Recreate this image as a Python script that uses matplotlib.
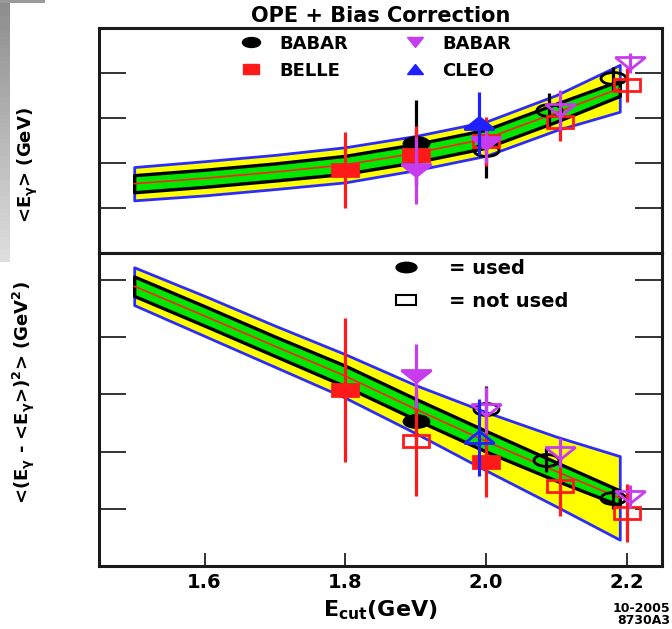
import numpy as np
import matplotlib
matplotlib.use("Agg")
import matplotlib.pyplot as plt
from matplotlib.markers import MarkerStyle
from matplotlib.transforms import Affine2D
from matplotlib.lines import Line2D

plt.rcParams['font.family'] = ['DejaVu Sans']
plt.rcParams['font.weight'] = 'bold'
plt.rcParams['axes.labelweight'] = 'bold'
plt.rcParams['mathtext.fontset'] = 'dejavusans'
plt.rcParams['mathtext.default'] = 'bf'

# OPE prediction band vs. photon energy cut
band_x = [1.5, 1.6, 1.7, 1.8, 1.9, 2.0, 2.1, 2.19]
mean_c = [2.277, 2.283, 2.290, 2.298, 2.311, 2.327, 2.356, 2.383]
mean_in = [0.0095, 0.0095, 0.0095, 0.0100, 0.0100, 0.0100, 0.0100, 0.0085]
mean_out = [0.0185, 0.019, 0.019, 0.0195, 0.019, 0.019, 0.0195, 0.026]
var_c = [0.0489, 0.0437, 0.0384, 0.0332, 0.0274, 0.0218, 0.0165, 0.0119]
var_in = [0.0017, 0.0017, 0.0017, 0.0018, 0.0018, 0.0018, 0.0016, 0.0013]
var_out = [0.0033, 0.0035, 0.0036, 0.0038, 0.0042, 0.0051, 0.0061, 0.0073]

# first moment <E_gamma> (GeV)
m_babar_x, m_babar_y, m_babar_e = [1.9], [2.322], [0.048]
m_babar_nu_x, m_babar_nu_y, m_babar_nu_e = [2.0, 2.09, 2.18], [2.314, 2.359, 2.394], [0.031, 0.019, 0.013]
m_belle_x, m_belle_y, m_belle_e = [1.8, 1.9], [2.292, 2.309], [0.042, 0.032]
m_belle_nu_x, m_belle_nu_y, m_belle_nu_e = [2.0, 2.105, 2.2], [2.324, 2.346, 2.387], [0.027, 0.021, 0.019]
m_bxs_x, m_bxs_y, m_bxs_e = [1.9, 2.0], [2.292, 2.322], [0.037, 0.022]
m_bxs_nu_x, m_bxs_nu_y, m_bxs_nu_e = [2.105, 2.205], [2.359, 2.411], [0.022, 0.011]
m_cleo_x, m_cleo_y, m_cleo_e = [1.99], [2.344], [0.035]

# second central moment (GeV^2)
v_babar_x, v_babar_y, v_babar_e = [1.9], [0.0254], [0.0046]
v_babar_nu_x, v_babar_nu_y, v_babar_nu_e = [2.0, 2.085, 2.18], [0.0275, 0.0186, 0.0118], [0.0039, 0.0021, 0.0018]
v_belle_x, v_belle_y, v_belle_e = [1.8, 2.0], [0.0307, 0.0181], [0.0126, 0.0060]
v_belle_nu_x, v_belle_nu_y, v_belle_nu_e = [1.9, 2.105, 2.2], [0.0218, 0.0140, 0.0093], [0.0095, 0.0052, 0.0051]
v_bxs_x, v_bxs_y, v_bxs_e = [1.9], [0.0332], [0.0056]
v_bxs_nu_x, v_bxs_nu_y, v_bxs_nu_e = [2.0, 2.105, 2.205], [0.0272, 0.0198, 0.0121], [0.0040, 0.0025, 0.0020]
v_cleo_nu_x, v_cleo_nu_y, v_cleo_nu_e = [1.99], [0.0225], [0.0067]

x_ticks = [1.6, 1.8, 2.0, 2.2]
x_ticklabels = ['1.6', '1.8', '2.0', '2.2']
mean_ticks = [2.25, 2.30, 2.35, 2.40]
var_ticks = [0.01, 0.02, 0.03, 0.04, 0.05]

BLACK = '#000000'
RED = '#ff1a1a'
MAG = '#c83cf0'
BLUE = '#1f1fff'


def squash(m, sy):
    return MarkerStyle(m, transform=Affine2D().scale(1.0, sy))


def band(ax, c, inner, outer):
    c, inner, outer = np.array(c), np.array(inner), np.array(outer)
    ax.fill_between(band_x, c - outer, c + outer, facecolor='#ffff00',
                    edgecolor='#2b2bff', lw=2.0, zorder=1)
    ax.fill_between(band_x, c - inner, c + inner, facecolor='#00e600',
                    edgecolor='black', lw=2.4, zorder=2)
    ax.plot(band_x, c, color='#ff2020', lw=1.2, zorder=3)


def points(ax, x, y, e, color, m, ms, sy, filled, z):
    ax.errorbar(x, y, yerr=e, fmt='none', ecolor=color, elinewidth=2.3,
                capsize=0, zorder=z)
    ax.plot(x, y, ls='none', marker=squash(m, sy), ms=ms,
            mfc=color if filled else 'none', mec=color, mew=2.0, zorder=z + 0.5)


fig = plt.figure(figsize=(6.72, 6.29), dpi=100)
ax1 = fig.add_axes([99 / 672, 1 - 253 / 629, 563 / 672, 225 / 629])
ax2 = fig.add_axes([99 / 672, 1 - 566 / 629, 563 / 672, 313 / 629])

# upper panel: mean photon energy
band(ax1, mean_c, mean_in, mean_out)
points(ax1, m_babar_x, m_babar_y, m_babar_e, BLACK, 'o', 18, 0.48, True, 5)
points(ax1, m_babar_nu_x, m_babar_nu_y, m_babar_nu_e, BLACK, 'o', 18, 0.48, False, 5)
points(ax1, m_belle_x, m_belle_y, m_belle_e, RED, 's', 19, 0.48, True, 6)
points(ax1, m_belle_nu_x, m_belle_nu_y, m_belle_nu_e, RED, 's', 19, 0.48, False, 6)
points(ax1, m_bxs_x, m_bxs_y, m_bxs_e, MAG, 'v', 21, 0.43, True, 7)
points(ax1, m_bxs_nu_x, m_bxs_nu_y, m_bxs_nu_e, MAG, 'v', 21, 0.43, False, 7)
points(ax1, m_cleo_x, m_cleo_y, m_cleo_e, BLUE, '^', 21, 0.43, True, 8)

# lower panel: variance
band(ax2, var_c, var_in, var_out)
points(ax2, v_babar_x, v_babar_y, v_babar_e, BLACK, 'o', 18, 0.48, True, 5)
points(ax2, v_babar_nu_x, v_babar_nu_y, v_babar_nu_e, BLACK, 'o', 18, 0.48, False, 5)
points(ax2, v_belle_x, v_belle_y, v_belle_e, RED, 's', 19, 0.48, True, 6)
points(ax2, v_belle_nu_x, v_belle_nu_y, v_belle_nu_e, RED, 's', 19, 0.48, False, 6)
points(ax2, v_bxs_x, v_bxs_y, v_bxs_e, MAG, 'v', 21, 0.43, True, 7)
points(ax2, v_bxs_nu_x, v_bxs_nu_y, v_bxs_nu_e, MAG, 'v', 21, 0.43, False, 7)
points(ax2, v_cleo_nu_x, v_cleo_nu_y, v_cleo_nu_e, BLUE, '^', 21, 0.43, False, 8)

for ax in (ax1, ax2):
    ax.set_xlim(1.45, 2.25)
    for s in ax.spines.values():
        s.set_linewidth(2.2)
        s.set_color('#1a1a1a')
    ax.tick_params(axis='y', which='both', direction='in', length=19.5,
                   width=1.3, left=True, right=True, labelleft=False,
                   color='#222222')

ax1.set_ylim(2.20, 2.45)
ax1.set_yticks(mean_ticks)
ax1.tick_params(axis='x', which='both', length=0, labelbottom=False)
ax2.set_ylim(0.0, 0.0547)
ax2.set_yticks(var_ticks)
ax2.set_xticks(x_ticks)
ax2.set_xticklabels(x_ticklabels)
ax2.tick_params(axis='x', direction='in', length=9.5, width=1.3, top=False,
                labelsize=14, pad=5, color='#222222')

ax1.set_title('OPE + Bias Correction', fontsize=15, fontweight='bold', pad=4)
ax1.set_ylabel('<E$_{\\gamma}$> (GeV)', fontsize=13, fontweight='bold')
ax1.yaxis.set_label_coords(-0.105, 0.39)
ax2.set_ylabel('<(E$_{\\gamma}$ - <E$_{\\gamma}$>)$^{2}$> (GeV$^{2}$)',
               fontsize=13, fontweight='bold')
ax2.yaxis.set_label_coords(-0.11, 0.553)
ax2.set_xlabel('E$_{cut}$(GeV)', fontsize=16, fontweight='bold')
ax2.xaxis.set_label_coords(0.5, -0.105)

# experiment legend
h_top = [
    Line2D([], [], ls='none', marker=squash('o', 0.55), ms=13, color=BLACK),
    Line2D([], [], ls='none', marker=squash('s', 0.55), ms=12, color=RED),
    Line2D([], [], ls='none', marker=squash('v', 0.6), ms=12, color=MAG),
    Line2D([], [], ls='none', marker=squash('^', 0.6), ms=12, color=BLUE),
]
ax1.legend(h_top, ['BABAR', 'BELLE', 'BABAR', 'CLEO'], ncol=2, frameon=False,
           loc='upper left', bbox_to_anchor=(0.254, 0.97), borderpad=0,
           borderaxespad=0, handlelength=1.0, handletextpad=1.05,
           columnspacing=3.2, labelspacing=0.5,
           prop={'size': 13, 'weight': 'bold'})

# used / not used legend
h_bot = [
    Line2D([], [], ls='none', marker=squash('o', 0.5), ms=15, color=BLACK),
    Line2D([], [], ls='none', marker=squash('s', 0.5), ms=15, mfc='none',
           mec=BLACK, mew=1.5),
]
ax2.legend(h_bot, ['= used', '= not used'], frameon=False, loc='upper left',
           bbox_to_anchor=(0.528, 0.982), borderpad=0, borderaxespad=0,
           handlelength=1.0, handletextpad=1.7, labelspacing=0.75,
           prop={'size': 14, 'weight': 'bold'})

fig.text(0.998, 0.003, '10-2005\n8730A3', ha='right', va='bottom',
         fontsize=9, fontweight='bold', linespacing=0.9)

# grey slide strip on the left edge
strip = fig.add_axes([0, 1 - 262 / 629, 10 / 672, 262 / 629])
strip.imshow(np.linspace(0.55, 0.87, 64)[:, None], cmap='gray', vmin=0, vmax=1,
             aspect='auto')
strip.axis('off')
top_strip = fig.add_axes([0, 1 - 3 / 629, 45 / 672, 3 / 629])
top_strip.set_facecolor('#9a9a9a')
top_strip.set_xticks([])
top_strip.set_yticks([])
for s in top_strip.spines.values():
    s.set_visible(False)

fig.savefig('out.png', dpi=100)
